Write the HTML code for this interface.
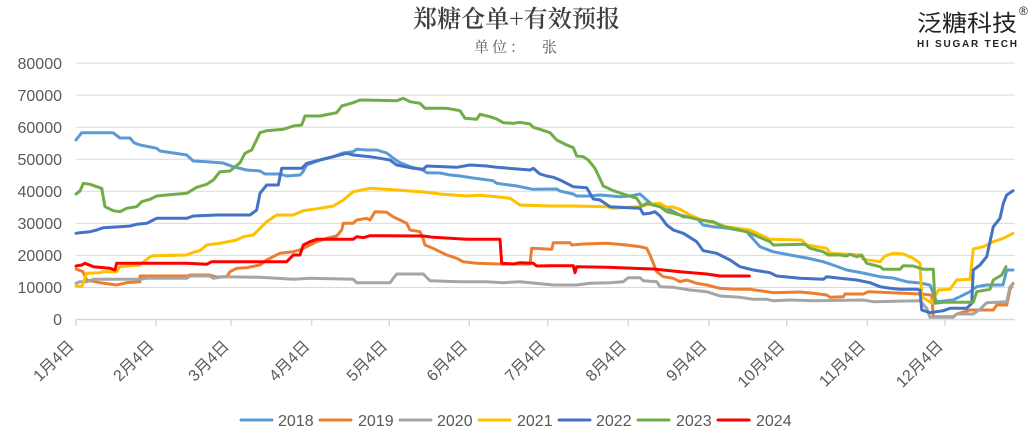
<!DOCTYPE html>
<html><head><meta charset="utf-8"><style>
html,body{margin:0;padding:0;background:#fff;}
svg{display:block;}
.ax{font-family:"Liberation Sans","Noto Sans CJK SC",sans-serif;font-size:16px;fill:#595959;}
</style></head><body>
<svg width="1035" height="442" viewBox="0 0 1035 442" xmlns="http://www.w3.org/2000/svg">
<rect width="1035" height="442" fill="#fff"/>
<!-- title -->
<text x="516.5" y="27" text-anchor="middle" font-family="'Noto Serif CJK SC','Liberation Serif',serif" font-size="24" font-weight="600" fill="#404040" textLength="207" lengthAdjust="spacingAndGlyphs">郑糖仓单+有效预报</text>
<g font-family="'Noto Serif CJK SC','Liberation Serif',serif" font-size="15" fill="#595959">
<text x="474" y="52">单</text>
<text x="492" y="52">位</text>
<text x="510" y="52">：</text>
<text x="542" y="52">张</text>
</g>
<!-- logo -->
<text x="917" y="31" font-family="'Noto Sans CJK SC',sans-serif" font-size="23" font-weight="400" fill="#222" textLength="100" lengthAdjust="spacingAndGlyphs">泛糖科技</text>
<text x="917" y="47" font-family="'Liberation Sans',sans-serif" font-size="10" font-weight="bold" fill="#222" textLength="100" lengthAdjust="spacing">HI SUGAR TECH</text>
<text x="1019" y="15" font-family="'Liberation Sans',sans-serif" font-size="12" fill="#222">®</text>
<!-- gridlines -->
<g stroke="#d9d9d9" stroke-width="1">
<line x1="76" x2="1015" y1="63.1" y2="63.1"/>
<line x1="76" x2="1015" y1="95.15" y2="95.15"/>
<line x1="76" x2="1015" y1="127.2" y2="127.2"/>
<line x1="76" x2="1015" y1="159.25" y2="159.25"/>
<line x1="76" x2="1015" y1="191.3" y2="191.3"/>
<line x1="76" x2="1015" y1="223.35" y2="223.35"/>
<line x1="76" x2="1015" y1="255.4" y2="255.4"/>
<line x1="76" x2="1015" y1="287.45" y2="287.45"/>
</g>
<g stroke="#d9d9d9" stroke-width="1.5">
<line x1="76" x2="1015" y1="319.5" y2="319.5"/>
<line x1="76" x2="76" y1="319.5" y2="326"/>
<line x1="156" x2="156" y1="319.5" y2="326"/>
<line x1="231" x2="231" y1="319.5" y2="326"/>
<line x1="311.7" x2="311.7" y1="319.5" y2="326"/>
<line x1="389.3" x2="389.3" y1="319.5" y2="326"/>
<line x1="469.3" x2="469.3" y1="319.5" y2="326"/>
<line x1="547.7" x2="547.7" y1="319.5" y2="326"/>
<line x1="628.3" x2="628.3" y1="319.5" y2="326"/>
<line x1="709" x2="709" y1="319.5" y2="326"/>
<line x1="786.7" x2="786.7" y1="319.5" y2="326"/>
<line x1="867.3" x2="867.3" y1="319.5" y2="326"/>
<line x1="945" x2="945" y1="319.5" y2="326"/>
</g>
<!-- y labels -->
<g class="ax" text-anchor="end">
<text x="62" y="68.8">80000</text>
<text x="62" y="100.9">70000</text>
<text x="62" y="132.9">60000</text>
<text x="62" y="165">50000</text>
<text x="62" y="197">40000</text>
<text x="62" y="229.1">30000</text>
<text x="62" y="261.1">20000</text>
<text x="62" y="293.2">10000</text>
<text x="62" y="325.2">0</text>
</g>
<!-- x labels -->
<g class="ax" text-anchor="end">
<text x="75" y="347" transform="rotate(-45 75 347)">1月4日</text>
<text x="155" y="347" transform="rotate(-45 155 347)">2月4日</text>
<text x="230" y="347" transform="rotate(-45 230 347)">3月4日</text>
<text x="310.7" y="347" transform="rotate(-45 310.7 347)">4月4日</text>
<text x="388.3" y="347" transform="rotate(-45 388.3 347)">5月4日</text>
<text x="468.3" y="347" transform="rotate(-45 468.3 347)">6月4日</text>
<text x="546.7" y="347" transform="rotate(-45 546.7 347)">7月4日</text>
<text x="627.3" y="347" transform="rotate(-45 627.3 347)">8月4日</text>
<text x="708" y="347" transform="rotate(-45 708 347)">9月4日</text>
<text x="785.7" y="347" transform="rotate(-45 785.7 347)">10月4日</text>
<text x="866.3" y="347" transform="rotate(-45 866.3 347)">11月4日</text>
<text x="944" y="347" transform="rotate(-45 944 347)">12月4日</text>
</g>
<!-- series -->
<g fill="none" stroke-width="3" stroke-linejoin="round" stroke-linecap="round">
<polyline stroke="#5B9BD5" points="76,140 81.7,132.7 113,132.7 120,138 130,138 134,142.7 140,145 156.7,148.3 160,151 186.7,155 193.3,161 206.7,161.7 223,163 233,166.7 246.7,170 260,171 265,174 280,174 286.7,176 300,175 303,171.7 306.7,165 320,160 333,156.7 343,153 353,151.7 356.7,149.3 366.7,150 376.7,150 386.7,153 393,158 400,162.7 410,166.7 423,170 426.7,172.7 440,173 450,175 460,176 473,178 493,180.7 496.7,183.3 516.7,186 533,189.3 556.7,189 560,191 573,194 576.7,196 590,196 600,195 620,196.7 630,196 640,194 646.7,200 653,205 666.7,208 683,216.7 696.7,218 703,225 713,226.7 726.7,228 746.7,231.7 760,246.7 773,251.7 790,255 806.7,258 823,261.7 833,265 846.7,270 863,273 880,276.7 893,278 906.7,281.7 920,283 930,285 935,298 936.7,301.7 953,300 960,296.7 970,291.7 976.7,286.7 986.7,285 1003,285 1006.7,270 1013,270"/>
<polyline stroke="#ED7D31" points="76,269 83,271.7 86.7,280 100,282.7 116.7,285 126.7,282.7 140,281.7 140,276 186.7,276 190,275 210,275 216.7,277 226.7,276.7 230,271.7 236.7,268.3 246.7,267.7 260,265 266.7,260 273,256.7 280,253.3 293,251.7 300,250 306.7,246.7 316.7,241.7 326.7,238.3 336.7,236 341.7,230 343.3,223.3 353,223.3 356.7,220 366.7,218.3 370,220 375,211.7 386.7,212.3 393,216.7 400,220 406.7,223.3 410,230 420,231.7 423,238.3 425,245 433,248.3 446.7,255 456.7,258.3 463,261.7 476.7,263.3 500,264 530,264 531.7,248.3 551.7,249.3 553.3,242.7 570,242.7 571.7,245 583.3,244 606.7,243.3 626.7,245 640,246.7 646.7,248.3 650,255 653.3,263.3 656.7,271.7 663.3,276.7 673.3,278.3 680,281.7 686.7,280 696.7,283.3 706.7,285 720,288.3 733.3,289.3 750,289.3 766.7,291.7 773.3,292.7 800,292 813.3,293.3 826.7,295 830,297.3 843.3,296.7 845,294 863.3,294 868.3,291.7 920,294 931.7,295 933.3,316.7 953.3,316.7 956.7,314 970,310 993.3,310 996.7,305 1006.7,305 1010,290 1013,283.3"/>
<polyline stroke="#A5A5A5" points="76,283.3 80,281.7 86.7,281.7 93.3,279.3 140,279.3 146.7,278.3 186.7,278.3 190,276 210,276 213.3,278.3 223.3,276.7 260,277.3 293.3,279.3 310,278.3 353.3,279.3 356.7,282.7 390,282.7 396.7,274 423.3,274 430,280.7 460,281.7 486.7,281.7 503.3,282.7 520,281.7 553.3,285 576.7,285 590,283.3 610,282.7 623.3,281.7 628.3,277.7 640,277.7 643.3,280.7 656.7,281.7 660,286.7 673.3,287.3 690,290 706.7,291.7 720,296 740,297.3 753.3,299.3 766.7,299.3 773.3,300.7 790,300 813.3,300.7 863.3,300 873.3,301.7 920,300.7 926.7,308.3 930,317.3 953.3,317.3 956.7,314 973.3,314 980,309.3 986.7,302.7 1006.7,301.7 1010,286.7 1013,284"/>
<polyline stroke="#FFC000" points="76,286 81.7,286.7 86.7,273.3 100,272.7 103.3,271.7 116.7,271.7 120,266.7 140,265 150,256.7 153.3,255.7 186.7,255 193.3,252.3 200,250.7 206.7,245 220,243.3 236.7,240 243.3,236.7 253.3,235 260,228.3 266.7,221.7 276.7,215 293.3,215 303.3,210.7 320,208.3 333.3,206 343.3,200 353.3,191.7 370,188.3 396.7,190 426.7,192.3 440,194 466.7,196 480,195.3 496.7,196.7 510,198.3 520,205 550,206 573.3,206 606.7,206.7 613.3,208.3 640,206.7 650,204 660,203.3 666.7,207.3 671.7,206.7 680,209.3 690,215 700,219.3 713.3,222.7 726.7,226.7 750,230 770,239.3 801.7,240 806.7,245 826.7,248.3 830,253.3 860,255 863.3,259.3 880,261.7 885,256 893.3,253.3 903.3,254 913.3,258.3 920,263.3 921.7,296.7 931.7,303.3 938.3,290 950,289.3 956.7,280 970,279.3 973.3,249 983.3,246.7 993.3,241.7 1003.3,238.3 1013,233.3"/>
<polyline stroke="#4472C4" points="76,233.3 80,232.7 90,231.7 96.7,230 103.3,227.7 120,226.7 130,226 136.7,224.3 146.7,223.3 153.3,220 156.7,218.3 186.7,218.3 193.3,216 216.7,215 250,215 256.7,210 260,193.3 266.7,185 278.3,185 281.7,168.3 301.7,168.3 306.7,163.3 320,160 333.3,156.7 346.7,153.3 353.3,155 370,156.7 380,158.3 390,160 396.7,165 413.3,168.3 423.3,169.3 426.7,166 456.7,167.3 470,165 486.7,166 496.7,167.3 530,170 533.3,168.3 540,174 546.7,176 553.3,177.3 560,180 573.3,186.7 586.7,187.7 593.3,199 600,200 610,206.7 640,208.3 643.3,214 650,213.3 655,211.7 660,216 666.7,225 673.3,230 683.3,233.3 696.7,241.7 703.3,250.7 716.7,253.3 730,260 740,266.7 753.3,270 770,272.7 776.7,276 800,278.3 823.3,279.3 826.7,276.7 840,278.3 856.7,280 870,282.7 880,286.7 890,288.3 900,289.3 916.7,289.3 920,290 921.7,310 930,312.7 943.3,310.7 950,308.3 966.7,308.3 971.7,303.3 973.3,270 980,265 986.7,256.7 993.3,226.7 1000,218.3 1003.3,203.3 1006.7,195 1013,190.7"/>
<polyline stroke="#70AD47" points="76,194 80,191 83.3,183.3 90,184.3 96.7,186.7 101.7,188.3 105,206.7 113.3,210.7 120,211.7 126.7,208.3 136.7,206.7 141.7,201.7 150,199.3 156.7,196 166.7,195 186.7,193.3 196.7,187.3 206.7,184.3 213.3,180 220,171.7 230,171 240,162.7 245,153.3 251.7,150 260,132.7 266.7,130.7 283.3,129.3 293.3,126 301.7,125 305,116 320,116 330,114 336.7,112.7 341.7,106 353.3,102.7 360,100 396.7,100.7 403.3,98.3 410,101.7 420,103.3 425,108.3 446.7,108.3 460,110.7 465,118.3 476.7,119.3 480,114.3 490,116.7 496.7,119 503.3,122.7 513.3,123.3 520,122.3 530,124 533.3,127.3 540,129.3 550,132.7 556.7,140 566.7,145 573.3,147.7 576.7,156 583.3,156.7 588.3,160 595,168.3 603.3,186 613.3,190.7 623.3,194 636.7,198.3 641.7,206 646.7,203.3 660,206.7 666.7,211.7 680,215 693.3,218.3 700,220 713.3,221.7 723.3,226.7 746.7,231.7 770,241.7 773.3,245 805,244.3 810,248.3 823.3,251.7 828.3,255 840,255 846.7,256 850,254.3 856.7,256.7 861.7,255 866.7,263.3 880,266.7 883.3,269.3 900,269.3 903.3,265.7 913.3,266 923.3,269.3 933.3,269.3 935,303.3 943.3,302.3 973.3,302.3 976.7,291.7 990,289.3 993.3,280 1001.7,275 1006,266.7"/>
<polyline stroke="#FF0000" points="76,266 81.7,265 85,263.3 93.3,266.7 110,268.3 115,270 116.7,263.3 186.7,263.3 206.7,264.3 211.7,261.7 286.7,261.7 293.3,255 300,255 303.3,245 310,241.7 316.7,239.3 353.3,239.3 356.7,236.7 363.3,237.7 370,235.7 423.3,236 433.3,237.3 466.7,239.3 500,239.3 501.7,263.3 513.3,264 520,262.7 533.3,263.3 536.7,266 550,265.7 573.3,265.7 575,272.7 576.7,266.7 606.7,267.3 653.3,269 680,271.7 706.7,274 720,276 749.3,276"/>
</g>
<!-- legend -->
<g stroke-width="3" stroke-linecap="round">
<line x1="241" x2="272" y1="420" y2="420" stroke="#5B9BD5"/>
<line x1="320" x2="351" y1="420" y2="420" stroke="#ED7D31"/>
<line x1="400" x2="431" y1="420" y2="420" stroke="#A5A5A5"/>
<line x1="479" x2="510" y1="420" y2="420" stroke="#FFC000"/>
<line x1="559" x2="590" y1="420" y2="420" stroke="#4472C4"/>
<line x1="638" x2="669" y1="420" y2="420" stroke="#70AD47"/>
<line x1="718" x2="749" y1="420" y2="420" stroke="#FF0000"/>
</g>
<g class="ax">
<text x="278" y="425.8">2018</text>
<text x="358" y="425.8">2019</text>
<text x="437" y="425.8">2020</text>
<text x="517" y="425.8">2021</text>
<text x="596" y="425.8">2022</text>
<text x="676" y="425.8">2023</text>
<text x="756" y="425.8">2024</text>
</g>
</svg>
</body></html>
